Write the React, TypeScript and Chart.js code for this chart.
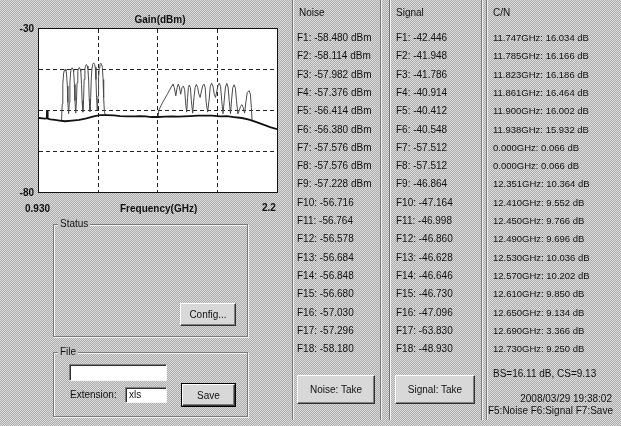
import React, { useEffect, useRef } from "react";
import { Chart, registerables } from "chart.js";
Chart.register(...registerables);

// ---- axis ----
const X_MIN = 0.93;
const X_MAX = 2.2;
const Y_MIN = -80;
const Y_MAX = -30;
const xGridTicks = [0.93, 1.2475, 1.565, 1.8825, 2.2];
const yGridTicks = [-80, -67.5, -55, -42.5, -30];

// ---- noise trace (GHz, dBm) ----
const noiseTraceFreq = [0.93, 0.95, 0.962, 0.968, 0.9715, 0.973, 0.9745, 0.978, 0.99, 1.015, 1.04, 1.069, 1.107, 1.145, 1.183, 1.222, 1.256, 1.29, 1.33, 1.362, 1.4, 1.44, 1.469, 1.5, 1.53, 1.565, 1.602, 1.64, 1.672, 1.736, 1.78, 1.81, 1.853, 1.896, 1.933, 1.97, 2.013, 2.051, 2.083, 2.12, 2.163, 2.2];
const noiseTraceDbm = [-57.3, -57.4, -57.5, -57.4, -57.2, -55.0, -57.2, -57.5, -57.7, -57.9, -58.1, -58.3, -58.1, -57.9, -57.4, -56.8, -56.4, -56.4, -56.5, -56.7, -56.8, -56.8, -56.7, -56.8, -57.0, -57.0, -56.9, -56.8, -56.9, -56.7, -56.6, -56.6, -56.6, -56.8, -56.7, -57.0, -57.3, -57.8, -58.4, -59.2, -60.1, -60.7];

// ---- signal trace, low band group (GHz, dBm) ----
const sigLowFreq = [1.05, 1.051, 1.054, 1.057, 1.061, 1.064, 1.069, 1.074, 1.077, 1.081, 1.084, 1.088, 1.092, 1.095, 1.099, 1.102, 1.107, 1.112, 1.115, 1.119, 1.122, 1.126, 1.13, 1.133, 1.137, 1.14, 1.145, 1.15, 1.153, 1.157, 1.16, 1.164, 1.168, 1.171, 1.175, 1.178, 1.183, 1.188, 1.191, 1.195, 1.198, 1.202, 1.206, 1.209, 1.213, 1.216, 1.222, 1.227, 1.23, 1.234, 1.237, 1.241, 1.245, 1.248, 1.252, 1.255, 1.26, 1.265, 1.268, 1.272, 1.275, 1.279, 1.285];
const sigLowDbm = [-58.0, -57.0, -53.0, -47.0, -43.8, -42.9, -42.4, -42.9, -43.8, -47.5, -52.5, -56.0, -52.5, -46.5, -43.2, -42.4, -41.9, -42.4, -43.2, -47.0, -52.0, -55.8, -52.0, -46.5, -43.0, -42.3, -41.8, -42.3, -43.0, -47.0, -52.0, -55.5, -51.5, -45.5, -42.2, -41.4, -40.9, -41.4, -42.2, -46.0, -51.5, -55.3, -51.0, -45.0, -41.7, -40.9, -40.4, -40.9, -41.7, -45.5, -51.0, -55.0, -50.5, -45.0, -41.8, -41.0, -40.5, -41.0, -41.8, -45.5, -51.0, -55.5, -56.4];

// ---- signal trace, high band group (GHz, dBm) ----
const sigHighFreq = [1.565, 1.57, 1.59, 1.615, 1.64, 1.645, 1.652, 1.66, 1.667, 1.673, 1.679, 1.686, 1.693, 1.7, 1.707, 1.713, 1.718, 1.723, 1.727, 1.732, 1.738, 1.743, 1.75, 1.757, 1.763, 1.77, 1.777, 1.783, 1.79, 1.797, 1.803, 1.81, 1.817, 1.822, 1.83, 1.838, 1.844, 1.851, 1.858, 1.865, 1.872, 1.879, 1.885, 1.892, 1.899, 1.905, 1.912, 1.919, 1.925, 1.932, 1.939, 1.945, 1.952, 1.958, 1.964, 1.971, 1.978, 1.984, 1.991, 1.999, 2.005, 2.012, 2.019, 2.027, 2.035, 2.041, 2.051, 2.058, 2.063, 2.067];
const sigHighDbm = [-57.0, -54.8, -52.5, -50.0, -47.3, -46.9, -48.0, -50.5, -48.0, -46.9, -47.8, -50.0, -48.0, -47.5, -48.5, -53.0, -55.5, -51.0, -48.0, -47.2, -48.0, -52.0, -55.8, -51.0, -48.0, -47.0, -48.0, -50.0, -51.0, -49.0, -47.5, -46.9, -48.0, -52.5, -55.5, -51.5, -47.6, -46.6, -47.5, -50.0, -51.0, -49.0, -47.4, -46.6, -47.6, -52.0, -56.0, -51.5, -47.8, -46.7, -47.8, -52.0, -56.0, -51.5, -48.0, -47.1, -48.2, -52.0, -56.0, -55.0, -53.8, -53.2, -54.0, -55.8, -52.0, -49.5, -48.9, -50.0, -54.0, -58.0];

// ---- table values ----
const noiseValues = [-58.48, -58.114, -57.982, -57.376, -56.414, -56.38, -57.576, -57.576, -57.228, -56.716, -56.764, -56.578, -56.684, -56.848, -56.68, -57.03, -57.296, -58.18];
const signalValues = [-42.446, -41.948, -41.786, -40.914, -40.412, -40.548, -57.512, -57.512, -46.864, -47.164, -46.998, -46.86, -46.628, -46.646, -46.73, -47.096, -63.83, -48.93];
const cnFreqs = [11.747, 11.785, 11.823, 11.861, 11.9, 11.938, 0, 0, 12.351, 12.41, 12.45, 12.49, 12.53, 12.57, 12.61, 12.65, 12.69, 12.73];
const cnValues = [16.034, 16.166, 16.186, 16.464, 16.002, 15.932, 0.066, 0.066, 10.364, 9.552, 9.766, 9.696, 10.036, 10.202, 9.85, 9.134, 3.366, 9.25];
const summaryText = "BS=16.11 dB, CS=9.13";
const timestampText = "2008/03/29 19:38:02";
const keysText = "F5:Noise F6:Signal F7:Save";

const FONT = '"Liberation Sans", Arial, sans-serif';
const ROW0 = 38;
const ROWH = 18.3;

const toXY = (xs: number[], ys: number[]) => xs.map((x, i) => ({ x, y: ys[i] }));

function GainChart() {
  const ref = useRef<HTMLCanvasElement | null>(null);
  useEffect(() => {
    if (!ref.current) return;
    const edgeColor = (min: number, max: number) => (ctx: any) =>
      ctx.tick && (Math.abs(ctx.tick.value - min) < 1e-6 || Math.abs(ctx.tick.value - max) < 1e-6) ? "rgba(0,0,0,0)" : "#222";
    const chart = new Chart(ref.current, {
      type: "line",
      data: {
        datasets: [
          { data: toXY(noiseTraceFreq, noiseTraceDbm), borderColor: "#111", borderWidth: 1.8, pointRadius: 0, tension: 0 },
          { data: toXY(sigLowFreq, sigLowDbm), borderColor: "#4a4a4a", borderWidth: 1, pointRadius: 0, tension: 0 },
          { data: toXY(sigHighFreq, sigHighDbm), borderColor: "#4a4a4a", borderWidth: 1, pointRadius: 0, tension: 0 },
        ],
      },
      options: {
        animation: false,
        responsive: false,
        maintainAspectRatio: false,
        layout: { padding: 0 },
        plugins: { legend: { display: false }, tooltip: { enabled: false }, title: { display: false } },
        scales: {
          x: {
            type: "linear",
            min: X_MIN,
            max: X_MAX,
            afterBuildTicks: (s: any) => { s.ticks = xGridTicks.map((v) => ({ value: v })); },
            ticks: { display: false },
            grid: { color: edgeColor(X_MIN, X_MAX), lineWidth: 1, drawTicks: false },
            border: { display: false, dash: [4, 3] },
          },
          y: {
            type: "linear",
            min: Y_MIN,
            max: Y_MAX,
            afterBuildTicks: (s: any) => { s.ticks = yGridTicks.map((v) => ({ value: v })); },
            ticks: { display: false },
            grid: { color: edgeColor(Y_MIN, Y_MAX), lineWidth: 1, drawTicks: false },
            border: { display: false, dash: [4, 3] },
          },
        },
      } as any,
    });
    return () => chart.destroy();
  }, []);
  return <canvas ref={ref} width={238} height={163} style={{ display: "block", width: 238, height: 163 }} />;
}

const txt = (left: number, cy: number, s: string, extra: React.CSSProperties = {}) => (
  <div style={{ position: "absolute", left, top: cy - 6, lineHeight: "12px", whiteSpace: "nowrap", ...extra }}>{s}</div>
);

function Btn({ x, y, w, h, label, def }: { x: number; y: number; w: number; h: number; label: string; def?: boolean }) {
  return (
    <div style={{ position: "absolute", left: x, top: y, width: w, height: h, boxSizing: "border-box", border: def ? "1px solid #000" : "none" }}>
      <div
        style={{
          width: "100%", height: "100%", boxSizing: "border-box", background: "#d8d8d8",
          borderStyle: "solid", borderWidth: 1, borderColor: "#fff #303030 #303030 #fff",
          boxShadow: "inset -1px -1px 0 #808080", display: "flex", alignItems: "center", justifyContent: "center",
          fontSize: 10, color: "#111",
        }}
      >
        {label}
      </div>
    </div>
  );
}

function Group({ x, y, w, h, label }: { x: number; y: number; w: number; h: number; label: string }) {
  return (
    <>
      <div style={{ position: "absolute", left: x, top: y, width: w, height: h, boxSizing: "border-box", border: "1px solid #7a7a7a", boxShadow: "1px 1px 0 #f4f4f4, inset 1px 1px 0 #f4f4f4" }} />
      <div style={{ position: "absolute", left: x + 5, top: y - 6, lineHeight: "12px", padding: "0 2px", background: "#c4c4c4", fontSize: 10 }}>{label}</div>
    </>
  );
}

const VLine = ({ x, top = 0, bottom = 420 }: { x: number; top?: number; bottom?: number }) => (
  <div style={{ position: "absolute", left: x, top, width: 1, height: bottom - top, background: "#7a7a7a", boxShadow: "1px 0 0 #f0f0f0" }} />
);

const Field = ({ x, y, w, h, value }: { x: number; y: number; w: number; h: number; value?: string }) => (
  <div
    style={{
      position: "absolute", left: x, top: y, width: w, height: h, boxSizing: "border-box", background: "#fff",
      borderStyle: "solid", borderWidth: 1, borderColor: "#808080 #f4f4f4 #f4f4f4 #808080",
      boxShadow: "inset 1px 1px 0 #303030", fontSize: 10, lineHeight: `${h - 2}px`, paddingLeft: 3, color: "#111",
    }}
  >
    {value}
  </div>
);

export default function App() {
  const bold: React.CSSProperties = { fontWeight: "bold" };
  return (
    <div
      style={{
        position: "fixed", left: 0, top: 0, width: 621, height: 426, overflow: "hidden",
        background: "repeating-conic-gradient(#acacac 0 25%, #dcdcdc 0 50%) 0 0/2px 2px",
        fontFamily: FONT, fontSize: 10, color: "#111",
      }}
    >
      {/* chart */}
      <div style={{ position: "absolute", left: 38, top: 28, width: 240, height: 165, boxSizing: "border-box", border: "1px solid #111", background: "#fff" }}>
        <GainChart />
      </div>
      <div style={{ position: "absolute", left: 120, top: 14, width: 80, textAlign: "center", lineHeight: "12px", ...bold }}>Gain(dBm)</div>
      <div style={{ position: "absolute", left: 8, top: 23, width: 26, textAlign: "right", lineHeight: "12px", ...bold }}>-30</div>
      <div style={{ position: "absolute", left: 8, top: 187, width: 26, textAlign: "right", lineHeight: "12px", ...bold }}>-80</div>
      {txt(25, 209, "0.930", bold)}
      {txt(120, 209, "Frequency(GHz)", bold)}
      {txt(262, 208, "2.2", bold)}

      {/* status / file groups */}
      <Group x={53} y={224} w={195} h={113} label="Status" />
      <Btn x={180} y={303} w={56} h={23} label="Config..." />
      <Group x={53} y={352} w={195} h={65} label="File" />
      <Field x={69} y={364} w={98} h={17} />
      {txt(70, 395, "Extension:")}
      <Field x={125} y={387} w={42} h={16} value="xls" />
      <Btn x={181} y={383} w={55} h={24} label="Save" def />

      {/* separators */}
      <VLine x={292} />
      <VLine x={380} />
      <VLine x={389} />
      <VLine x={481} />
      <VLine x={486} />

      {/* noise column */}
      {txt(299, 13, "Noise")}
      {noiseValues.map((v, i) => (
        <React.Fragment key={"n" + i}>{txt(297, ROW0 + i * ROWH, `F${i + 1}: ${v.toFixed(3)}${i < 9 ? " dBm" : ""}`)}</React.Fragment>
      ))}
      <Btn x={297} y={375} w={78} h={29} label="Noise: Take" />

      {/* signal column */}
      {txt(396, 13, "Signal")}
      {signalValues.map((v, i) => (
        <React.Fragment key={"s" + i}>{txt(396, ROW0 + i * ROWH, `F${i + 1}: ${v.toFixed(3)}`)}</React.Fragment>
      ))}
      <Btn x={395} y={375} w={80} h={29} label="Signal: Take" />

      {/* C/N column */}
      {txt(493, 13, "C/N")}
      {cnValues.map((v, i) => (
        <React.Fragment key={"c" + i}>{txt(493, ROW0 + i * ROWH, `${cnFreqs[i].toFixed(3)}GHz: ${v.toFixed(3)} dB`, { fontSize: 9.5 })}</React.Fragment>
      ))}
      {txt(493, 374, summaryText)}
      <div style={{ position: "absolute", right: 9, top: 393, lineHeight: "12px", whiteSpace: "nowrap" }}>{timestampText}</div>
      <div style={{ position: "absolute", right: 8, top: 405, lineHeight: "12px", whiteSpace: "nowrap" }}>{keysText}</div>
    </div>
  );
}
